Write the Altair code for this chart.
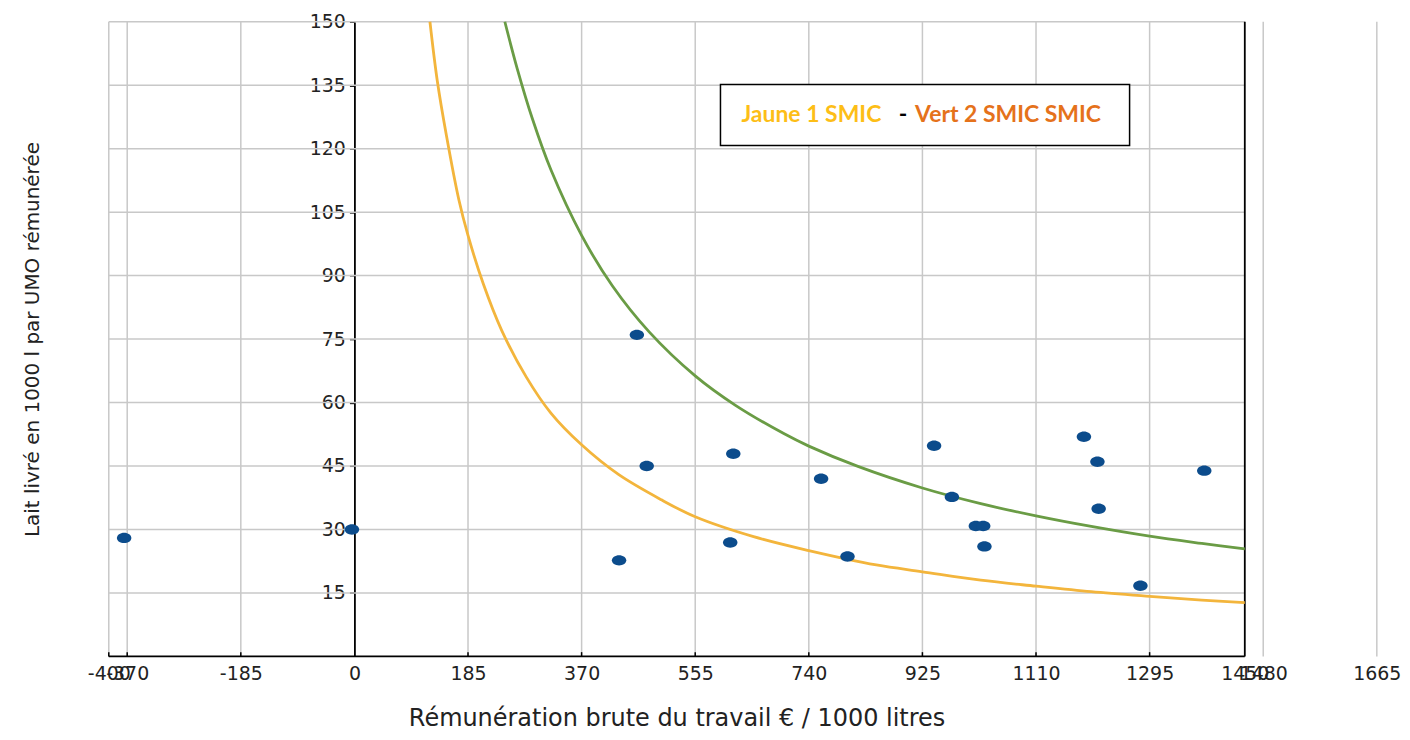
import altair as alt
import pandas as pd

# ---------------- data ----------------
farm_x = [-375, -4, 460, 476, 431, 617, 612, 760, 803, 944, 973, 1012, 1024, 1026, 1188, 1210, 1212, 1280, 1384]
farm_y = [28, 30, 76, 45, 22.7, 47.9, 26.9, 42, 23.6, 49.8, 37.7, 30.8, 30.8, 26, 51.9, 46, 34.9, 16.7, 43.9]

yellow_x = [123, 135, 150, 170, 185, 210, 240, 280, 320, 370, 430, 500, 555, 650, 740, 850, 925, 1020, 1110, 1200, 1295, 1380, 1450]
yellow_y = [150, 136, 123, 108, 99.5, 88, 77, 66, 57.5, 50, 43, 37, 33, 28.3, 25, 21.6, 20, 18, 16.6, 15.3, 14.2, 13.3, 12.7]

green_x = [245, 265, 290, 320, 370, 420, 480, 555, 620, 700, 740, 820, 925, 1020, 1110, 1200, 1295, 1380, 1450]
green_y = [150, 139, 127, 115, 99.5, 87.6, 76.7, 66.3, 59.4, 52.6, 49.7, 44.9, 39.8, 36.1, 33.2, 30.7, 28.4, 26.7, 25.4]

x_tick_labels = [-400, -370, -185, 0, 185, 370, 555, 740, 925, 1110, 1295, 1450, 1480, 1665]
x_grid = [-400, -370, -185, 185, 370, 555, 740, 925, 1110, 1295, 1480, 1665]
x_small_ticks = [-400, -370, -185, 185, 370, 555, 740, 925, 1110, 1295]
y_tick_labels = [15, 30, 45, 60, 75, 90, 105, 120, 135, 150]

x_left, x_frame, x_right = -400, 1450, 1680
y_bottom, y_top = 0, 150

x_title = "Rémunération brute du travail € / 1000 litres"
y_title = "Lait livré en 1000 l par UMO rémunérée"
legend_texts = ["Jaune 1 SMIC", "-", "Vert 2 SMIC SMIC"]

# ---------------- layout ----------------
W, H = 1280, 636
FONT = "DejaVu Sans"
xs = alt.Scale(domain=[x_left, x_right], nice=False, zero=False)
ys = alt.Scale(domain=[y_bottom, y_top], nice=False, zero=False)
zero_off = W * (0 - x_left) / (x_right - x_left)

x_axis = alt.Axis(
    values=x_tick_labels, grid=False, ticks=False, domain=False,
    labelExpr="datum.value + ''",
    labelFont=FONT, labelFontSize=19, labelColor="#222", labelPadding=8,
    labelOverlap=False, labelFlush=False, labelBound=False,
    title=x_title, titleFont=FONT, titleFontSize=24, titleFontWeight="normal",
    titleColor="#222", titleX=569, titleY=69, titleAlign="center",
    titleBaseline="alphabetic", titleAngle=0,
)
y_axis = alt.Axis(
    values=y_tick_labels, grid=False, domain=True, domainColor="black", domainWidth=1.8,
    ticks=True, tickColor="black", tickSize=5, tickWidth=1.5,
    labelFont=FONT, labelFontSize=19, labelColor="#222", labelPadding=4,
    labelOverlap=False, labelFlush=False, labelBound=False,
    offset=-zero_off,
    title=y_title, titleFont=FONT, titleFontSize=20, titleFontWeight="normal",
    titleColor="#222", titleX=-323, titleY=H / 2, titleAngle=270,
    titleAlign="center", titleBaseline="middle",
)

def X(f="x"):
    return alt.X(f + ":Q", scale=xs, axis=x_axis)

def Y(f="y"):
    return alt.Y(f + ":Q", scale=ys, axis=y_axis)

farms = pd.DataFrame({"x": farm_x, "y": farm_y})
yellow = pd.DataFrame({"x": yellow_x, "y": yellow_y})
green = pd.DataFrame({"x": green_x, "y": green_y})
vgrid = pd.DataFrame({"x": x_grid, "y": y_bottom, "y2": y_top})
hgrid = pd.DataFrame({"y": y_tick_labels, "x": x_left, "x2": x_frame})
ticks = pd.DataFrame({"x": x_small_ticks, "y": y_bottom, "y2": y_bottom + 1})
frame_bottom = pd.DataFrame({"x": [x_left], "x2": [x_frame], "y": [y_bottom]})
frame_right = pd.DataFrame({"x": [x_frame], "y": [y_bottom], "y2": [y_top]})
one = pd.DataFrame({"a": [0]})

grid_color = "#c8c8c8"

vg = alt.Chart(vgrid).mark_rule(color=grid_color, strokeWidth=1.5).encode(
    x=X(), y=Y(), y2="y2:Q")
hg = alt.Chart(hgrid).mark_rule(color=grid_color, strokeWidth=1.5).encode(
    x=X(), x2="x2:Q", y=Y())
tk = alt.Chart(ticks).mark_rule(color="black", strokeWidth=1.5).encode(
    x=X(), y=Y(), y2="y2:Q")
fb = alt.Chart(frame_bottom).mark_rule(color="black", strokeWidth=1.8).encode(
    x=X(), x2="x2:Q", y=Y())
fr = alt.Chart(frame_right).mark_rule(color="black", strokeWidth=1.8).encode(
    x=X(), y=Y(), y2="y2:Q")

yl = alt.Chart(yellow).mark_line(color="#f3b53c", strokeWidth=2.8, interpolate="catmull-rom").encode(
    x=X(), y=Y(), order="x:Q")
gl = alt.Chart(green).mark_line(color="#6a9c45", strokeWidth=2.8, interpolate="catmull-rom").encode(
    x=X(), y=Y(), order="x:Q")

pts = alt.Chart(farms).mark_point(
    filled=True, color="#0c4c8c", opacity=1, size=210,
    shape="M-1,0A1,0.72,0,1,0,1,0A1,0.72,0,1,0,-1,0Z",
).encode(x=X(), y=Y())

box = alt.Chart(one).mark_rect(fill="white", stroke="black", strokeWidth=1.5).encode(
    x=alt.value(613), x2=alt.value(1023), y=alt.value(63), y2=alt.value(124)
)
t1 = alt.Chart(one).mark_text(
    font="Lato", fontWeight="bold", fontSize=23, color="#fdbe17", align="left", baseline="alphabetic"
).encode(x=alt.value(634), y=alt.value(100), text=alt.value(legend_texts[0]))
t2 = alt.Chart(one).mark_text(
    font="Lato", fontWeight="bold", fontSize=23, color="black", align="center", baseline="alphabetic"
).encode(x=alt.value(796), y=alt.value(100), text=alt.value(legend_texts[1]))
t3 = alt.Chart(one).mark_text(
    font="Lato", fontWeight="bold", fontSize=23, color="#e5721b", align="left", baseline="alphabetic"
).encode(x=alt.value(808), y=alt.value(100), text=alt.value(legend_texts[2]))

chart = alt.layer(vg, hg, tk, fb, fr, yl, gl, pts, box, t1, t2, t3).properties(
    width=W, height=H,
    autosize=alt.AutoSizeParams(type="none"),
    padding={"left": 101, "top": 13, "right": 16, "bottom": 75},
    background="white",
).configure_view(stroke=None)

chart.save("out.html", embed_options={"renderer": "svg", "actions": False})
